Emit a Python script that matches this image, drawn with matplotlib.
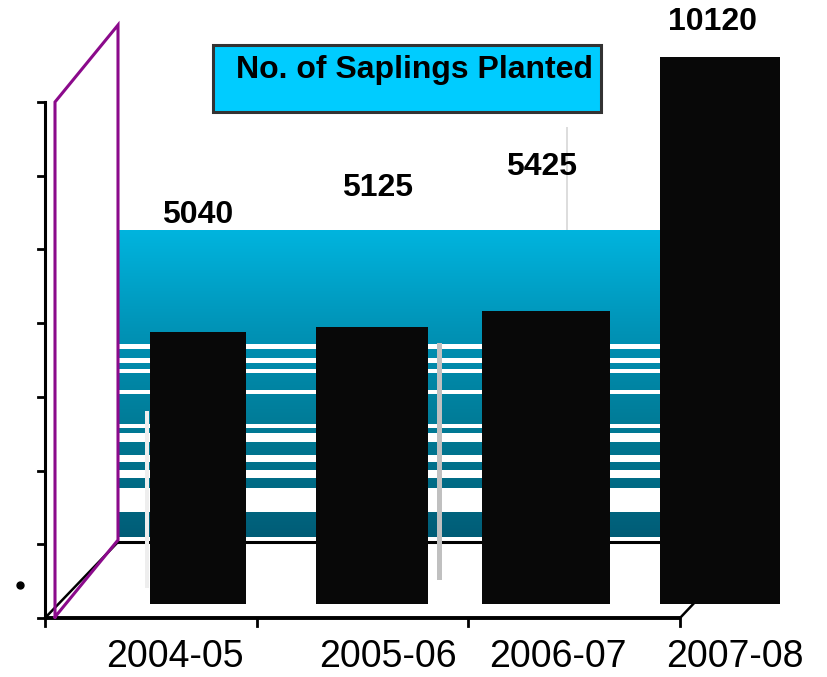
import numpy as np
import matplotlib
matplotlib.use("Agg")
import matplotlib.pyplot as plt
from matplotlib.colors import LinearSegmentedColormap
from matplotlib.patches import Rectangle

plt.rcParams['font.family'] = ['Liberation Sans', 'DejaVu Sans']

# ---- data ----
categories = ["2004-05", "2005-06", "2006-07", "2007-08"]
values = [5040, 5125, 5425, 10120]
series_name = "No. of Saplings Planted"

W, H = 827, 677
fig = plt.figure(figsize=(W / 100, H / 100), dpi=100)
fig.patch.set_facecolor("white")

def fr(x0, y0, x1, y1):
    # pixel box (top-left origin) -> figure fraction rect
    return [x0 / W, 1 - y1 / H, (x1 - x0) / W, (y1 - y0) / H]

# ---- background overlay axes in pixel coords ----
bg = fig.add_axes([0, 0, 1, 1], zorder=0)
bg.set_xlim(0, W)
bg.set_ylim(H, 0)
bg.axis("off")

# back wall gradient
cmap = LinearSegmentedColormap.from_list("wall", ["#00b4de", "#0092b5", "#007893", "#005c76"])
grad = np.linspace(0, 1, 256).reshape(-1, 1)
bg.imshow(grad, cmap=cmap, extent=[118, 665, 540, 230], aspect="auto", zorder=1)
stripes = [(344, 349), (358, 363), (369, 373), (390, 394), (424, 428), (433, 442),
           (455, 462), (470, 478), (488, 512), (537, 541)]
for y0, y1 in stripes:
    bg.add_patch(Rectangle((118, y0), 665 - 118, y1 - y0, facecolor="white", edgecolor="none", zorder=2))

# floor / base lines
bg.plot([118, 665], [542, 542], color="black", lw=2.2, zorder=3)
bg.plot([45, 118], [618, 542], color="black", lw=1.8, zorder=3)
bg.plot([45, 680], [618, 618], color="black", lw=2.8, zorder=3, solid_capstyle="butt")
bg.plot([680, 697], [618, 600], color="black", lw=1.8, zorder=3)
for xx in [45, 257, 468, 680]:
    bg.plot([xx, xx], [618, 626], color="black", lw=2, zorder=3)

# left value axis
bg.plot([45, 45], [102, 618], color="black", lw=2.2, zorder=3)
for y in np.linspace(102, 618, 8):
    bg.plot([38, 45], [y, y], color="black", lw=2, zorder=3)

# purple side wall
bg.plot([55, 55, 118, 118, 55], [617, 102, 25, 540, 617], color="#8b0a8b", lw=2.2, zorder=4,
        solid_joinstyle="miter")

# thin grey pillars
bg.add_patch(Rectangle((145, 411), 4, 177, facecolor="#eeeeee", edgecolor="none", zorder=3))
bg.add_patch(Rectangle((437, 343), 5, 237, facecolor="#c0c0c0", edgecolor="none", zorder=3))
bg.add_patch(Rectangle((566, 127), 2, 108, facecolor="#dddddd", edgecolor="none", zorder=0.5))

# bullet
bg.plot([20], [585], "o", color="black", ms=5, zorder=3)

# ---- bar axes (data scale) ----
ax = fig.add_axes(fr(111, 36.5, 807, 604), zorder=1)
ax.patch.set_alpha(0)
ax.set_xlim(-0.5, 3.5)
ax.set_ylim(0, 10500)
ax.axis("off")
x = np.arange(len(categories))
bar_widths = [0.55, 0.64, 0.73, 0.69]
bars = ax.bar(x, values, width=bar_widths, color="#080808", edgecolor="none")

label_offsets = [(0, 117), (6, 139), (-4, 144), (-8, 35)]
for i, (v, off) in enumerate(zip(values, label_offsets)):
    ax.annotate(f"{v}", (i, v), xytext=off, textcoords="offset pixels",
                ha="center", va="center", fontsize=23, fontweight="bold", color="black",
                annotation_clip=False)

cat_dx = [-23, 16, 12, 15]
for i, (c, dx) in enumerate(zip(categories, cat_dx)):
    ax.annotate(c, (i, 0), xytext=(dx, -53), textcoords="offset pixels",
                ha="center", va="center", fontsize=27, color="black", annotation_clip=False)

# ---- title box ----
fg = fig.add_axes([0, 0, 1, 1], zorder=2)
fg.set_xlim(0, W)
fg.set_ylim(H, 0)
fg.axis("off")
fg.add_patch(Rectangle((213, 45), 388, 67, facecolor="#00ccff", edgecolor="#333333", lw=2.2))
fg.text(414, 70, series_name, ha="center", va="center", fontsize=23, fontweight="bold")

fig.savefig("out.png", dpi=100, facecolor="white")
